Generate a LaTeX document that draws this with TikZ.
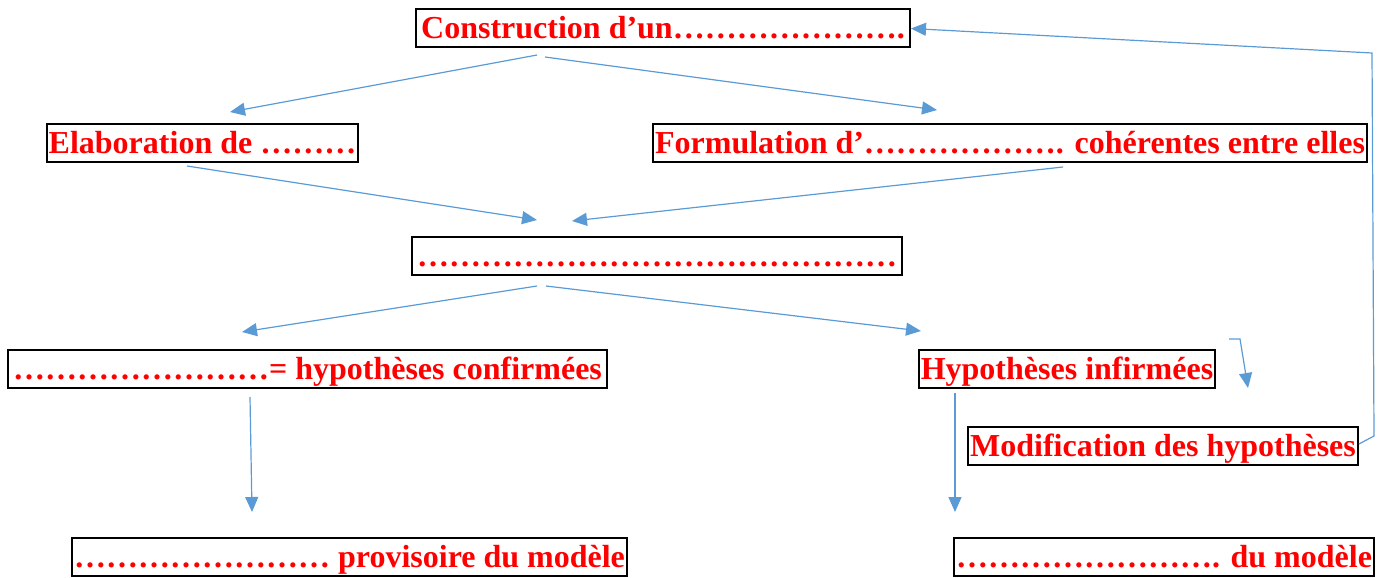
\documentclass[tikz,border=0pt]{standalone}
\usepackage{fontspec}
\setmainfont{Liberation Serif}
\usetikzlibrary{arrows.meta}
\definecolor{TxtRed}{HTML}{FF0000}
\definecolor{ArrBlue}{HTML}{5B9BD5}
\newcommand{\points}[1]{\foreach \i in {1,...,#1}{…}}

\begin{document}
\begin{tikzpicture}[x=1pt, y=-1pt,
    boite/.style={draw=black, line width=2pt, text=TxtRed, inner xsep=2pt, inner ysep=3pt,
        minimum height=38pt, text height=26pt, text depth=5pt,
        font=\bfseries\fontsize{32}{38}\selectfont},
    fleche/.style={draw=ArrBlue, line width=1.2pt, -{Triangle[length=15pt, width=13pt]}}]
    \useasboundingbox (0,0) rectangle (1384,578);
    % Boxes
    \node[boite, minimum width=494pt] (cons) at (663,28.5) {Construction d’un\points{7}.};
    \node[boite, minimum width=309pt] (elab) at (202.5,143) {Elaboration de \points{3}};
    \node[boite, minimum width=710pt] (form) at (1010,143) {Formulation d’\points{6}. cohérentes entre elles};
    \node[boite, minimum width=490pt] (milieu) at (657,256) {\points{15}};
    \node[boite, minimum width=599pt] (conf) at (307.5,369) {\points{8}= hypothèses confirmées};
    \node[boite, minimum width=294pt] (infi) at (1067,369) {Hypothèses infirmées};
    \node[boite, minimum width=388pt] (modif) at (1163,446) {Modification des hypothèses};
    \node[boite, minimum width=553pt] (prov) at (349.5,556.5) {\points{8} provisoire du modèle};
    \node[boite, minimum width=412pt] (dumod) at (1164,556.5) {\points{8}. du modèle};
    % Free ends of the arrows
    \coordinate (consG) at (537,55);
    \coordinate (consD) at (545,57);
    \coordinate (elabB) at (187,166);
    \coordinate (formB) at (1063,167);
    \coordinate (milG) at (537,286);
    \coordinate (milD) at (546,286);
    \coordinate (confB) at (250,397);
    \coordinate (infiB) at (955,393);
    \coordinate (elabH) at (230,112);
    \coordinate (formH) at (937,110);
    \coordinate (milHG) at (537,220);
    \coordinate (milHD) at (572,221);
    \coordinate (confH) at (242,332);
    \coordinate (infiH) at (921,331);
    \coordinate (provH) at (252,512);
    \coordinate (dumodH) at (955,512);
    \coordinate (coinA) at (1374,436);
    \coordinate (coinB) at (1372,53);
    \coordinate (petitA) at (1229,339);
    \coordinate (petitB) at (1240,339);
    \coordinate (petitC) at (1248,388);
    % Arrows
    \draw[fleche] (consG) -- (elabH);
    \draw[fleche] (consD) -- (formH);
    \draw[fleche] (elabB) -- (milHG);
    \draw[fleche] (formB) -- (milHD);
    \draw[fleche] (milG) -- (confH);
    \draw[fleche] (milD) -- (infiH);
    \draw[fleche] (confB) -- (provH);
    \draw[fleche] (infiB) -- (dumodH);
    \draw[fleche] (petitA) -- (petitB) -- (petitC);
    \draw[fleche] ([yshift=2pt]modif.east) -- (coinA) -- (coinB) -- (cons.east);
\end{tikzpicture}
\end{document}
